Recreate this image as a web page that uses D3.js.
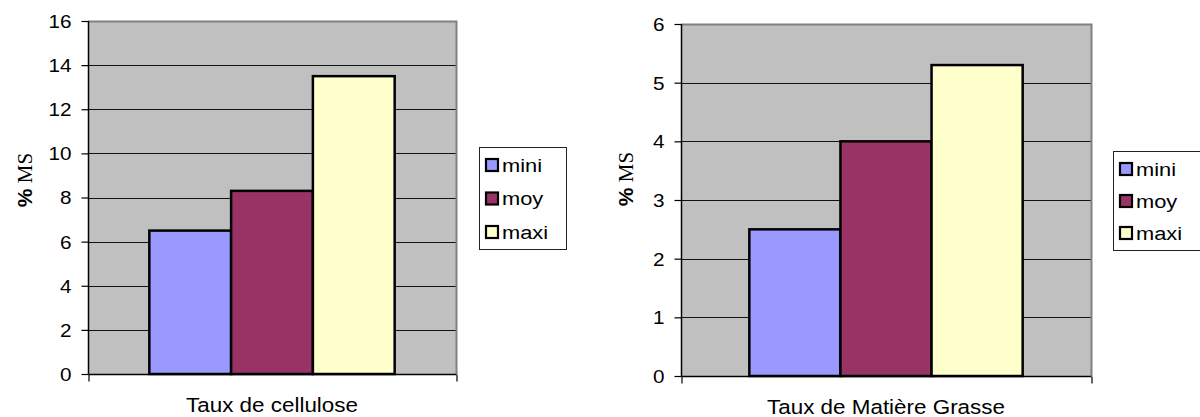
<!DOCTYPE html>
<html>
<head>
<meta charset="utf-8">
<script src="https://cdn.jsdelivr.net/npm/d3@7/dist/d3.min.js"></script>
<style>
  html, body { margin: 0; padding: 0; background: #fff; }
  svg { display: block; }
  text { font-family: Arial, "Liberation Sans", sans-serif; fill: #000; }
</style>
</head>
<body>
<script>
// ---- data ----
const categories = ["Taux de cellulose", "Taux de Matière Grasse"];
const seriesNames = ["mini", "moy", "maxi"];
const celluloseValues = [6.5, 8.3, 13.5];
const matiereGrasseValues = [2.5, 4.0, 5.3];
const celluloseTicks = [0, 2, 4, 6, 8, 10, 12, 14, 16];
const matiereGrasseTicks = [0, 1, 2, 3, 4, 5, 6];
const seriesColors = ["#9999FF", "#993366", "#FFFFCC"];
const yAxisLabel = ["%", " MS"];

// ---- layout ----
const W = 1200, H = 417;
const svg = d3.select("body").append("svg").attr("width", W).attr("height", H);
const SX = 1.15; // horizontal text stretch

const charts = [
  { title: categories[0], values: celluloseValues, ticks: celluloseTicks,
    plot: { x0: 88, y0: 21, x1: 456, y1: 374 },
    legend: { x: 479, y: 147, w: 87, h: 102 },
    yLabel: { x: 32, y: 180 }, xLabelY: 412 },
  { title: categories[1], values: matiereGrasseValues, ticks: matiereGrasseTicks,
    plot: { x0: 681, y0: 24, x1: 1091, y1: 376 },
    legend: { x: 1113, y: 151, w: 100, h: 99 },
    yLabel: { x: 633, y: 179 }, xLabelY: 414 }
];

charts.forEach(c => {
  const p = c.plot;
  const g = svg.append("g");
  const y = d3.scaleLinear().domain([0, d3.max(c.ticks)]).range([p.y1, p.y0]);
  const x = d3.scaleBand().domain(seriesNames).range([p.x0, p.x1])
    .paddingInner(0).paddingOuter(0.75);

  // plot background
  g.append("rect").attr("x", p.x0).attr("y", p.y0)
    .attr("width", p.x1 - p.x0).attr("height", p.y1 - p.y0)
    .attr("fill", "#C0C0C0");

  // gridlines
  g.selectAll(".grid").data(c.ticks.slice(1, -1)).join("line")
    .attr("x1", p.x0).attr("x2", p.x1)
    .attr("y1", d => Math.round(y(d)) + 0.5).attr("y2", d => Math.round(y(d)) + 0.5)
    .attr("stroke", "#111").attr("stroke-width", 1.2);

  // top & right border (gray)
  g.append("path")
    .attr("d", `M${p.x0},${p.y0 + 0.5}H${p.x1 + 0.5}V${p.y1}`)
    .attr("fill", "none").attr("stroke", "#808080").attr("stroke-width", 2);

  // bars
  g.selectAll(".bar").data(c.values).join("rect")
    .attr("x", (d, i) => x(seriesNames[i]))
    .attr("y", d => y(d))
    .attr("width", x.bandwidth())
    .attr("height", d => y(0) - y(d))
    .attr("fill", (d, i) => seriesColors[i])
    .attr("stroke", "#000").attr("stroke-width", 2.5);

  // y axis
  const yAxis = d3.axisLeft(y).tickValues(c.ticks).tickSize(7).tickPadding(10)
    .tickFormat(d3.format("d"));
  const ya = g.append("g").attr("transform", `translate(${p.x0 + 0.5},0)`).call(yAxis);
  ya.select(".domain").attr("stroke", "#000").attr("stroke-width", 1.5)
    .attr("d", `M0,${p.y0}V${p.y1}`);
  ya.selectAll(".tick line").attr("stroke", "#000").attr("stroke-width", 1.2);
  ya.selectAll(".tick text").attr("font-size", 18).attr("font-family", "Arial, 'Liberation Sans', sans-serif")
    .attr("fill", "#000").attr("dy", "0.36em")
    .each(function() {
      const t = d3.select(this);
      const tx = +t.attr("x");
      t.attr("x", null).attr("transform", `translate(${tx},0) scale(${SX},1)`);
    });

  // x axis (bottom)
  const xAxisScale = d3.scaleLinear().domain([0, 1]).range([p.x0, p.x1]);
  const xAxis = d3.axisBottom(xAxisScale).tickValues([0, 1]).tickSize(7).tickFormat("");
  const xa = g.append("g").attr("transform", `translate(0.5,${p.y1 + 0.5})`).call(xAxis);
  xa.select(".domain").attr("stroke", "#000").attr("stroke-width", 1.5)
    .attr("d", `M${p.x0},0H${p.x1}`);
  xa.selectAll(".tick line").attr("stroke", "#000").attr("stroke-width", 1.2);

  // x label
  g.append("text")
    .attr("transform", `translate(${(p.x0 + p.x1) / 2},${c.xLabelY}) scale(${SX},1)`)
    .attr("text-anchor", "middle").attr("font-size", 19.5)
    .text(c.title);

  // y label
  const yl = g.append("text")
    .attr("transform", `translate(${c.yLabel.x},${c.yLabel.y}) rotate(-90)`)
    .attr("text-anchor", "middle").attr("font-size", 21);
  yl.append("tspan").attr("font-weight", "bold")
    .attr("font-family", "Arial, 'Liberation Sans', sans-serif").text(yAxisLabel[0]);
  yl.append("tspan").attr("font-family", "'Times New Roman', 'Liberation Serif', serif")
    .text(yAxisLabel[1]);

  // legend
  const L = c.legend;
  g.append("rect").attr("x", L.x + 0.5).attr("y", L.y + 0.5)
    .attr("width", L.w).attr("height", L.h)
    .attr("fill", "#fff").attr("stroke", "#222").attr("stroke-width", 1);
  const rowY = d3.scalePoint().domain(seriesNames).range([L.y + 18, L.y + L.h - 17]);
  const items = g.selectAll(".leg").data(seriesNames).join("g")
    .attr("transform", d => `translate(${L.x + 7},${rowY(d)})`);
  items.append("rect").attr("x", 0).attr("y", -6).attr("width", 12).attr("height", 12)
    .attr("fill", (d, i) => seriesColors[i]).attr("stroke", "#000").attr("stroke-width", 2.2);
  items.append("text")
    .attr("transform", `translate(16,0) scale(${SX},1)`)
    .attr("dy", "0.36em").attr("font-size", 19)
    .text(d => d);
});
</script>
</body>
</html>
